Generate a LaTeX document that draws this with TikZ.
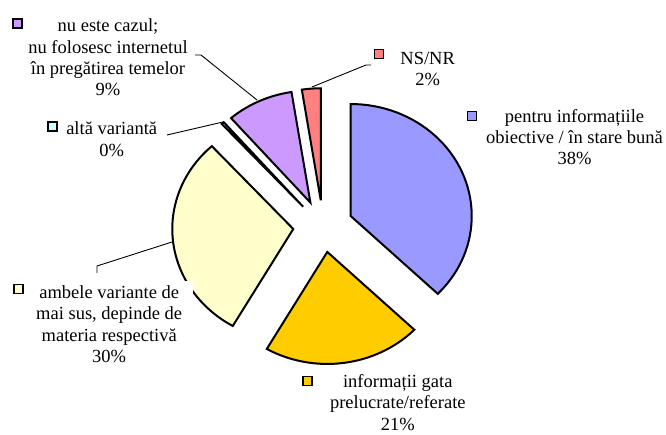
\documentclass[tikz,border=0pt]{standalone}
\usepackage{fontspec}
\setmainfont{Liberation Serif}
\usetikzlibrary{calc}
\definecolor{cblue}{HTML}{9999FF}
\definecolor{cyellow}{HTML}{FFCC00}
\definecolor{clight}{HTML}{FFFFCC}
\definecolor{ccyan}{HTML}{CCFFFF}
\definecolor{cviolet}{HTML}{CC99FF}
\definecolor{csalmon}{HTML}{FF8080}
\tikzset{
  slice/.style={draw=black, line width=2pt, line join=miter},
  legkey/.style={draw=black, line width=1.8pt, minimum size=9pt, inner sep=0pt},
  lbl/.style={align=center, inner sep=0pt, font=\fontsize{18.5}{21.2}\selectfont},
  leader/.style={draw=black, line width=0.9pt},
}
\newcommand\pieslice[3]{%
  \filldraw[slice, fill=#3] ($(C)+({(#1+#2)/2}:30pt and 26pt)$) -- ++(#1:121pt and 112pt)
    arc[start angle=#1, end angle=#2, x radius=121pt, y radius=112pt] -- cycle;}
\begin{document}
\begin{tikzpicture}[x=1pt,y=1pt]
\useasboundingbox (0,0) rectangle (666,435);
\coordinate (C) at (323.1,208.8);
% slices
\pieslice{-44}{90}{cblue}
\pieslice{240}{316}{cyellow}
\pieslice{132.3}{240}{clight}
\pieslice{131}{132.3}{ccyan}
\pieslice{99}{131}{cviolet}
\pieslice{90}{99}{csalmon}
% label background covering part of the light slice
\fill[white] (30,60) rectangle (193,154);
% labels
\node[lbl] (lviolet) at (108,377.5) {nu este cazul;\\nu folosesc internetul\\în pregătirea temelor\\9\%};
\node[lbl] (lcyan) at (111.7,295.7) {altă variantă\\0\%};
\node[lbl] (lsalmon) at (427.7,366) {NS/NR\\2\%};
\node[lbl] (lblue) at (574.5,298) {pentru informațiile\\obiective / în stare bună\\38\%};
\node[lbl] (llight) at (109.2,110.8) {ambele variante de\\mai sus, depinde de\\materia respectivă\\30\%};
\node[lbl] (lyellow) at (397.8,32.5) {informații gata\\prelucrate/referate\\21\%};
% legend keys
\node[legkey, fill=cviolet] (kviolet) at (17.8,411.7) {};
\node[legkey, fill=ccyan] (kcyan) at (52.5,308.3) {};
\node[legkey, fill=csalmon] (ksalmon) at (379,381) {};
\node[legkey, fill=cblue] (kblue) at (472,319) {};
\node[legkey, fill=clight] (klight) at (18.3,146) {};
\node[legkey, fill=cyellow] (kyellow) at (307.5,54) {};
% leader lines
\coordinate (v0) at (195,380); \coordinate (v1) at (201,380); \coordinate (v2) at (257,335);
\draw[leader] (v0) -- (v1) -- (v2);
\coordinate (c0) at (167,300); \coordinate (c1) at (223,313);
\draw[leader] (c0) -- (c1);
\coordinate (s0) at (312,348); \coordinate (s1) at (366,370); \coordinate (s2) at (371,370);
\draw[leader] (s0) -- (s1) -- (s2);
\coordinate (l0) at (97,162); \coordinate (l1) at (97,169); \coordinate (l2) at (172,193);
\draw[leader] (l0) -- (l1) -- (l2);
\end{tikzpicture}
\end{document}
